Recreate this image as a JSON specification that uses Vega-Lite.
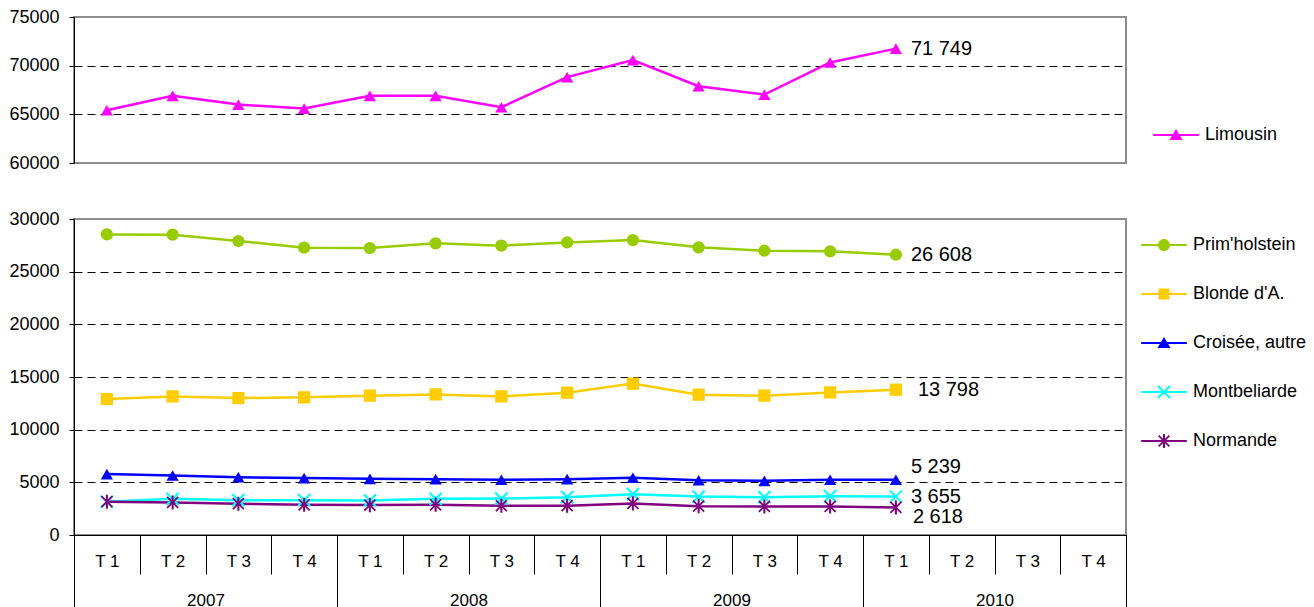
{
  "$schema": "https://vega.github.io/schema/vega-lite/v6.json",
  "padding": {"left": 7, "top": 7, "right": 0, "bottom": 0},
  "background": "white",
  "config": {
    "font": "Liberation Sans",
    "locale": {"number": {"decimal": ",", "thousands": " ", "grouping": [3], "currency": ["", " €"]}},
    "view": {"stroke": "#8c8c8c", "strokeWidth": 2},
    "axis": {"labelFont": "Liberation Sans", "labelFontSize": 18, "labelColor": "black", "domainColor": "black", "tickColor": "black", "title": null},
    "legend": {"labelFont": "Liberation Sans", "labelFontSize": 18, "labelColor": "black", "symbolSize": 144, "symbolOpacity": 1, "symbolStrokeWidth": 0, "labelOffset": 20, "rowPadding": 31, "padding": 0}
  },
  "datasets": {
    "d": [
      {"serie": "Limousin", "t": 0, "periode": "2007 T1", "value": 65420},
      {"serie": "Limousin", "t": 1, "periode": "2007 T2", "value": 66900},
      {"serie": "Limousin", "t": 2, "periode": "2007 T3", "value": 66000},
      {"serie": "Limousin", "t": 3, "periode": "2007 T4", "value": 65590},
      {"serie": "Limousin", "t": 4, "periode": "2008 T1", "value": 66900},
      {"serie": "Limousin", "t": 5, "periode": "2008 T2", "value": 66900},
      {"serie": "Limousin", "t": 6, "periode": "2008 T3", "value": 65730},
      {"serie": "Limousin", "t": 7, "periode": "2008 T4", "value": 68820},
      {"serie": "Limousin", "t": 8, "periode": "2009 T1", "value": 70570},
      {"serie": "Limousin", "t": 9, "periode": "2009 T2", "value": 67890},
      {"serie": "Limousin", "t": 10, "periode": "2009 T3", "value": 67030},
      {"serie": "Limousin", "t": 11, "periode": "2009 T4", "value": 70330},
      {"serie": "Limousin", "t": 12, "periode": "2010 T1", "value": 71749},
      {"serie": "Prim'holstein", "t": 0, "periode": "2007 T1", "value": 28540},
      {"serie": "Prim'holstein", "t": 1, "periode": "2007 T2", "value": 28510},
      {"serie": "Prim'holstein", "t": 2, "periode": "2007 T3", "value": 27910},
      {"serie": "Prim'holstein", "t": 3, "periode": "2007 T4", "value": 27280},
      {"serie": "Prim'holstein", "t": 4, "periode": "2008 T1", "value": 27240},
      {"serie": "Prim'holstein", "t": 5, "periode": "2008 T2", "value": 27690},
      {"serie": "Prim'holstein", "t": 6, "periode": "2008 T3", "value": 27470},
      {"serie": "Prim'holstein", "t": 7, "periode": "2008 T4", "value": 27780},
      {"serie": "Prim'holstein", "t": 8, "periode": "2009 T1", "value": 28000},
      {"serie": "Prim'holstein", "t": 9, "periode": "2009 T2", "value": 27310},
      {"serie": "Prim'holstein", "t": 10, "periode": "2009 T3", "value": 26990},
      {"serie": "Prim'holstein", "t": 11, "periode": "2009 T4", "value": 26930},
      {"serie": "Prim'holstein", "t": 12, "periode": "2010 T1", "value": 26608},
      {"serie": "Blonde d'A.", "t": 0, "periode": "2007 T1", "value": 12910},
      {"serie": "Blonde d'A.", "t": 1, "periode": "2007 T2", "value": 13160},
      {"serie": "Blonde d'A.", "t": 2, "periode": "2007 T3", "value": 13000},
      {"serie": "Blonde d'A.", "t": 3, "periode": "2007 T4", "value": 13070},
      {"serie": "Blonde d'A.", "t": 4, "periode": "2008 T1", "value": 13230},
      {"serie": "Blonde d'A.", "t": 5, "periode": "2008 T2", "value": 13350},
      {"serie": "Blonde d'A.", "t": 6, "periode": "2008 T3", "value": 13160},
      {"serie": "Blonde d'A.", "t": 7, "periode": "2008 T4", "value": 13510},
      {"serie": "Blonde d'A.", "t": 8, "periode": "2009 T1", "value": 14370},
      {"serie": "Blonde d'A.", "t": 9, "periode": "2009 T2", "value": 13320},
      {"serie": "Blonde d'A.", "t": 10, "periode": "2009 T3", "value": 13230},
      {"serie": "Blonde d'A.", "t": 11, "periode": "2009 T4", "value": 13540},
      {"serie": "Blonde d'A.", "t": 12, "periode": "2010 T1", "value": 13798},
      {"serie": "Croisée, autre", "t": 0, "periode": "2007 T1", "value": 5780},
      {"serie": "Croisée, autre", "t": 1, "periode": "2007 T2", "value": 5650},
      {"serie": "Croisée, autre", "t": 2, "periode": "2007 T3", "value": 5490},
      {"serie": "Croisée, autre", "t": 3, "periode": "2007 T4", "value": 5400},
      {"serie": "Croisée, autre", "t": 4, "periode": "2008 T1", "value": 5330},
      {"serie": "Croisée, autre", "t": 5, "periode": "2008 T2", "value": 5300},
      {"serie": "Croisée, autre", "t": 6, "periode": "2008 T3", "value": 5240},
      {"serie": "Croisée, autre", "t": 7, "periode": "2008 T4", "value": 5300},
      {"serie": "Croisée, autre", "t": 8, "periode": "2009 T1", "value": 5430},
      {"serie": "Croisée, autre", "t": 9, "periode": "2009 T2", "value": 5200},
      {"serie": "Croisée, autre", "t": 10, "periode": "2009 T3", "value": 5140},
      {"serie": "Croisée, autre", "t": 11, "periode": "2009 T4", "value": 5240},
      {"serie": "Croisée, autre", "t": 12, "periode": "2010 T1", "value": 5239},
      {"serie": "Montbeliarde", "t": 0, "periode": "2007 T1", "value": 3150},
      {"serie": "Montbeliarde", "t": 1, "periode": "2007 T2", "value": 3430},
      {"serie": "Montbeliarde", "t": 2, "periode": "2007 T3", "value": 3310},
      {"serie": "Montbeliarde", "t": 3, "periode": "2007 T4", "value": 3310},
      {"serie": "Montbeliarde", "t": 4, "periode": "2008 T1", "value": 3280},
      {"serie": "Montbeliarde", "t": 5, "periode": "2008 T2", "value": 3430},
      {"serie": "Montbeliarde", "t": 6, "periode": "2008 T3", "value": 3460},
      {"serie": "Montbeliarde", "t": 7, "periode": "2008 T4", "value": 3590},
      {"serie": "Montbeliarde", "t": 8, "periode": "2009 T1", "value": 3880},
      {"serie": "Montbeliarde", "t": 9, "periode": "2009 T2", "value": 3650},
      {"serie": "Montbeliarde", "t": 10, "periode": "2009 T3", "value": 3590},
      {"serie": "Montbeliarde", "t": 11, "periode": "2009 T4", "value": 3690},
      {"serie": "Montbeliarde", "t": 12, "periode": "2010 T1", "value": 3655},
      {"serie": "Normande", "t": 0, "periode": "2007 T1", "value": 3160},
      {"serie": "Normande", "t": 1, "periode": "2007 T2", "value": 3090},
      {"serie": "Normande", "t": 2, "periode": "2007 T3", "value": 2970},
      {"serie": "Normande", "t": 3, "periode": "2007 T4", "value": 2870},
      {"serie": "Normande", "t": 4, "periode": "2008 T1", "value": 2840},
      {"serie": "Normande", "t": 5, "periode": "2008 T2", "value": 2870},
      {"serie": "Normande", "t": 6, "periode": "2008 T3", "value": 2780},
      {"serie": "Normande", "t": 7, "periode": "2008 T4", "value": 2780},
      {"serie": "Normande", "t": 8, "periode": "2009 T1", "value": 3000},
      {"serie": "Normande", "t": 9, "periode": "2009 T2", "value": 2740},
      {"serie": "Normande", "t": 10, "periode": "2009 T3", "value": 2710},
      {"serie": "Normande", "t": 11, "periode": "2009 T4", "value": 2710},
      {"serie": "Normande", "t": 12, "periode": "2010 T1", "value": 2618}
    ]
  },
  "spacing": 56,
  "bounds": "flush",
  "resolve": {"scale": {"x": "independent", "color": "independent", "shape": "independent"}},
  "vconcat": [
    {
      "width": 1052,
      "height": 146,
      "data": {"name": "d"},
      "transform": [{"filter": "datum.serie === 'Limousin'"}],
      "encoding": {
        "x": {"field": "t", "type": "quantitative", "scale": {"domain": [-0.5, 15.5], "nice": false, "zero": false}, "axis": null},
        "y": {
          "field": "value", "type": "quantitative",
          "scale": {"domain": [60000, 75000], "nice": false, "zero": false},
          "axis": {"values": [60000, 65000, 70000, 75000], "format": "d", "grid": true, "gridColor": "#000000", "gridDash": [8, 5], "gridWidth": 1,
                   "gridOpacity": {"condition": {"test": "datum.value === 60000 || datum.value === 75000", "value": 0}, "value": 1},
                   "tickSize": 5, "labelPadding": 10, "domainColor": "black"}
        },
        "color": {"field": "serie", "type": "nominal", "scale": {"domain": ["Limousin"], "range": ["#ff00ff"]},
          "legend": {"title": null, "orient": "none", "legendX": 1093, "legendY": 109, "symbolType": "M-3.8,-0.18L3.8,-0.18L3.8,0.18L-3.8,0.18ZM0,-1L1.1,0.85L-1.1,0.85Z"}}
      },
      "layer": [
        {"mark": {"type": "line", "strokeWidth": 2.5}},
        {"mark": {"type": "point", "filled": true, "size": 150, "opacity": 1, "shape": "triangle-up"}},
        {
          "transform": [{"filter": "datum.t === 12"}],
          "mark": {"type": "text", "align": "left", "baseline": "middle", "dx": 15, "fontSize": 20, "color": "black"},
          "encoding": {"color": {"value": "black"}, "text": {"field": "value", "type": "quantitative", "format": ",d"}}
        }
      ]
    },
    {
      "width": 1052,
      "height": 316,
      "data": {"name": "d"},
      "transform": [{"filter": "datum.serie !== 'Limousin'"}],
      "resolve": {"scale": {"x": "independent"}},
      "encoding": {
        "x": {"field": "t", "type": "quantitative", "scale": {"domain": [-0.5, 15.5], "nice": false, "zero": false}, "axis": null},
        "y": {
          "field": "value", "type": "quantitative",
          "scale": {"domain": [0, 30000], "nice": false, "zero": false},
          "axis": {"values": [0, 5000, 10000, 15000, 20000, 25000, 30000], "format": "d", "grid": true, "gridColor": "#000000", "gridDash": [8, 5], "gridWidth": 1,
                   "gridOpacity": {"condition": {"test": "datum.value === 0 || datum.value === 30000", "value": 0}, "value": 1},
                   "tickSize": 5, "labelPadding": 10, "domainColor": "black"}
        },
        "color": {"field": "serie", "type": "nominal",
          "scale": {"domain": ["Prim'holstein", "Blonde d'A.", "Croisée, autre", "Montbeliarde", "Normande"], "range": ["#99cc00", "#ffcc00", "#0000ff", "#00ffff", "#800080"]},
          "legend": {"title": null, "orient": "none", "legendX": 1081, "legendY": 17}}
      },
      "layer": [
        {
          "mark": {"type": "line", "strokeWidth": 2.5},
          "encoding": {
            "x": {"field": "t", "type": "quantitative", "scale": {"domain": [-0.5, 15.5], "nice": false, "zero": false},
              "axis": {"orient": "bottom", "values": [-0.5, 0.5, 1.5, 2.5, 3.5, 4.5, 5.5, 6.5, 7.5, 8.5, 9.5, 10.5, 11.5, 12.5, 13.5, 14.5, 15.5],
                "tickSize": 39, "labelOffset": 32.875, "labelExpr": "datum.value < 15 ? 'T ' + ((datum.value + 0.5) % 4 + 1) : ''",
                "labelFontSize": 17, "labelBaseline": "middle", "labelPadding": -13, "labelFlush": false, "labelOverlap": false, "labelBound": false,
                "labelAngle": 0, "grid": false, "domainColor": "black", "tickColor": "black"}}
          }
        },
        {
          "mark": {"type": "point", "filled": true, "size": 150, "opacity": 1,
            "shape": {"expr": "{\"Prim'holstein\": \"circle\", \"Blonde d'A.\": \"square\", \"Croisée, autre\": \"triangle-up\", \"Montbeliarde\": \"M-0.88,-1.12L1.12,0.88L0.88,1.12L-1.12,-0.88ZM-1.12,0.88L0.88,-1.12L1.12,-0.88L-0.88,1.12Z\", \"Normande\": \"M-0.8,-1L1,0.8L0.8,1L-1,-0.8ZM-1,0.8L0.8,-1L1,-0.8L-0.8,1ZM-0.17,-1.15L0.17,-1.15L0.17,1.15L-0.17,1.15Z\"}[datum.serie]"}},
          "encoding": {
            "x": {"field": "t", "type": "quantitative", "scale": {"domain": [-0.5, 15.5], "nice": false, "zero": false},
              "axis": {"orient": "bottom", "values": [-0.5, 3.5, 7.5, 11.5, 15.5], "tickSize": 73, "labelOffset": 131.5,
                "labelExpr": "datum.value < 15 ? '' + (2007 + (datum.value + 0.5) / 4) : ''",
                "labelFontSize": 17, "labelBaseline": "middle", "labelPadding": -8, "labelFlush": false, "labelOverlap": false, "labelBound": false,
                "labelAngle": 0, "grid": false, "domain": false, "tickColor": "black"}}
          }
        },
        {
          "mark": {"type": "point", "filled": true, "size": 144, "opacity": 0},
          "encoding": {
            "shape": {"field": "serie", "type": "nominal",
              "scale": {"domain": ["Prim'holstein", "Blonde d'A.", "Croisée, autre", "Montbeliarde", "Normande"],
                "range": [
                  "M-3.8,-0.18L3.8,-0.18L3.8,0.18L-3.8,0.18ZM-1,0A1,1,0,1,1,1,0A1,1,0,1,1,-1,0Z",
                  "M-3.8,-0.18L3.8,-0.18L3.8,0.18L-3.8,0.18ZM-0.9,-0.9L0.9,-0.9L0.9,0.9L-0.9,0.9Z",
                  "M-3.8,-0.18L3.8,-0.18L3.8,0.18L-3.8,0.18ZM0,-1L1.1,0.85L-1.1,0.85Z",
                  "M-3.8,-0.18L3.8,-0.18L3.8,0.18L-3.8,0.18ZM-0.88,-1.12L1.12,0.88L0.88,1.12L-1.12,-0.88ZM-1.12,0.88L0.88,-1.12L1.12,-0.88L-0.88,1.12Z",
                  "M-3.8,-0.18L3.8,-0.18L3.8,0.18L-3.8,0.18ZM-0.8,-1L1,0.8L0.8,1L-1,-0.8ZM-1,0.8L0.8,-1L1,-0.8L-0.8,1ZM-0.17,-1.15L0.17,-1.15L0.17,1.15L-0.17,1.15Z"
                ]},
              "legend": {"title": null, "orient": "none", "legendX": 1081, "legendY": 17}}
          }
        },
        {
          "transform": [{"filter": "datum.t === 12 && datum.serie === \"Prim'holstein\""}],
          "mark": {"type": "text", "align": "left", "baseline": "middle", "dx": 15, "fontSize": 20},
          "encoding": {"color": {"value": "black"}, "text": {"field": "value", "type": "quantitative", "format": ",d"}}
        },
        {
          "transform": [{"filter": "datum.t === 12 && datum.serie === \"Blonde d'A.\""}],
          "mark": {"type": "text", "align": "left", "baseline": "middle", "dx": 22, "fontSize": 20},
          "encoding": {"color": {"value": "black"}, "text": {"field": "value", "type": "quantitative", "format": ",d"}}
        },
        {
          "transform": [{"filter": "datum.t === 12 && datum.serie === 'Croisée, autre'"}],
          "mark": {"type": "text", "align": "left", "baseline": "middle", "dx": 15, "dy": -13, "fontSize": 20},
          "encoding": {"color": {"value": "black"}, "text": {"field": "value", "type": "quantitative", "format": ",d"}}
        },
        {
          "transform": [{"filter": "datum.t === 12 && datum.serie === 'Montbeliarde'"}],
          "mark": {"type": "text", "align": "left", "baseline": "middle", "dx": 15, "fontSize": 20},
          "encoding": {"color": {"value": "black"}, "text": {"field": "value", "type": "quantitative", "format": ",d"}}
        },
        {
          "transform": [{"filter": "datum.t === 12 && datum.serie === 'Normande'"}],
          "mark": {"type": "text", "align": "left", "baseline": "middle", "dx": 17, "dy": 10, "fontSize": 20},
          "encoding": {"color": {"value": "black"}, "text": {"field": "value", "type": "quantitative", "format": ",d"}}
        }
      ]
    }
  ]
}
